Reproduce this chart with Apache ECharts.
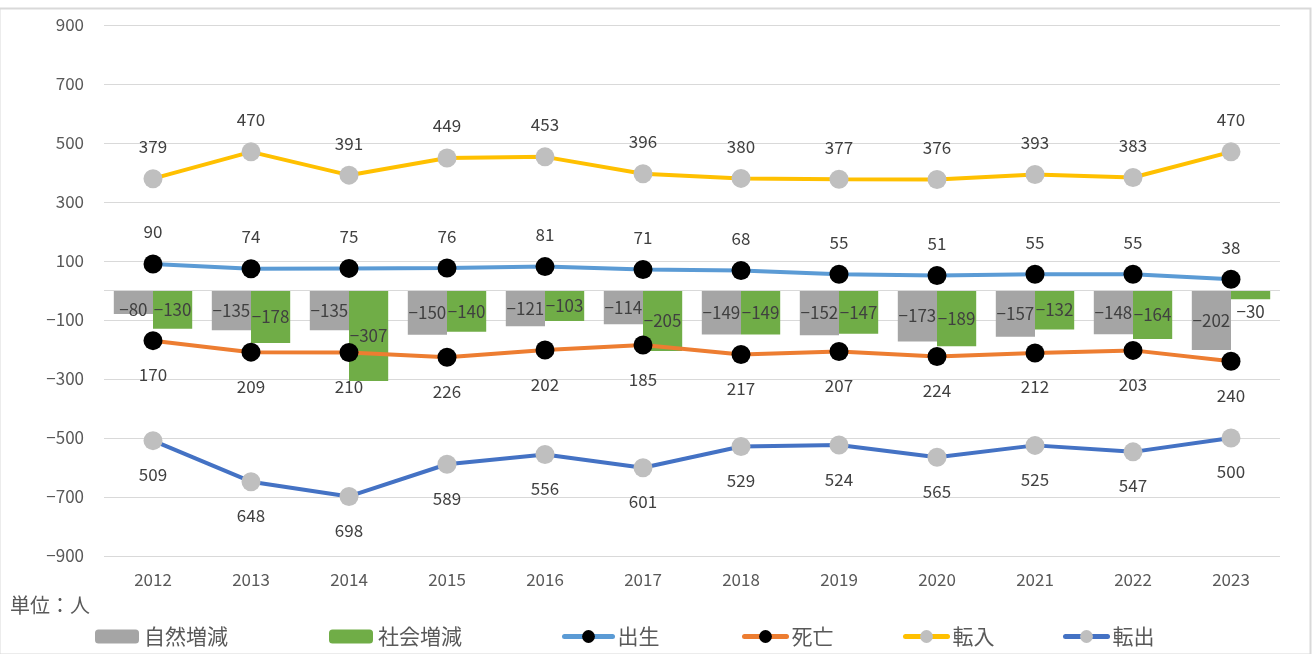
<!DOCTYPE html>
<html>
<head>
<meta charset="utf-8">
<script src="https://cdn.jsdelivr.net/npm/echarts@6/dist/echarts.min.js"></script>
<style>
  html, body { margin: 0; padding: 0; background: #fff; }
  #chart { width: 1312px; height: 654px; }
</style>
</head>
<body>
<div id="chart"></div>
<script>
const years = ['2012', '2013', '2014', '2015', '2016', '2017', '2018', '2019', '2020', '2021', '2022', '2023']
const natural = [-80, -135, -135, -150, -121, -114, -149, -152, -173, -157, -148, -202]
const social = [-130, -178, -307, -140, -103, -205, -149, -147, -189, -132, -164, -30]
const births = [90, 74, 75, 76, 81, 71, 68, 55, 51, 55, 55, 38]
const deaths = [-170, -209, -210, -226, -202, -185, -217, -207, -224, -212, -203, -240]
const moveIn = [379, 470, 391, 449, 453, 396, 380, 377, 376, 393, 383, 470]
const moveOut = [-509, -648, -698, -589, -556, -601, -529, -524, -565, -525, -547, -500]

const FONT = '"Noto Sans CJK JP", "Noto Sans", sans-serif'
const minus = (v) => (v < 0 ? '\u2212' + Math.abs(v) : String(v))

const chart = echarts.init(document.getElementById('chart'), null, { renderer: 'canvas' })

function barSeries(name, values, color) {
  return {
    name,
    type: 'bar',
    barGap: '0%',
    barCategoryGap: '20%',
    itemStyle: { color },
    label: {
      show: true,
      position: 'inside',
      color: '#404040',
      fontSize: 17,
      fontFamily: FONT,
      formatter: (p) => minus(p.value),
    },
    // small bars: put the label a bit lower, as Excel does
    data: values.map((v) => {
      if (Math.abs(v) < 50) return { value: v, label: { position: 'bottom', distance: 4 } }
      if (Math.abs(v) < 100) return { value: v, label: { offset: [0, 7] } }
      return v
    }),
    z: 1,
  }
}

function lineSeries(name, values, color, markerColor, labelPos) {
  return {
    name,
    type: 'line',
    data: values,
    symbol: 'circle',
    symbolSize: 19,
    lineStyle: { color, width: 4 },
    itemStyle: { color: markerColor, borderWidth: 0 },
    label: {
      show: true,
      position: labelPos,
      distance: labelPos === 'top' ? 14 : 16,
      color: '#404040',
      fontSize: 17,
      fontFamily: FONT,
      formatter: (p) => String(Math.abs(p.value)),
    },
    z: 3,
  }
}

const legendText = { color: '#595959', fontSize: 21, fontFamily: FONT }
function legendFor(name, left, w, isBar) {
  return {
    data: [name],
    left,
    top: 626,
    padding: 0,
    itemWidth: w,
    itemHeight: isBar ? 14 : 16,
    itemGap: 0,
    lineStyle: { width: 5, cap: 'round' },
    textStyle: legendText,
    selectedMode: false,
  }
}

const series = [
  barSeries('自然増減', natural, '#A5A5A5'),
  barSeries('社会増減', social, '#70AD47'),
  lineSeries('出生', births, '#5B9BD5', '#000000', 'top'),
  lineSeries('死亡', deaths, '#ED7D31', '#000000', 'bottom'),
  lineSeries('転入', moveIn, '#FFC000', '#BFBFBF', 'top'),
  lineSeries('転出', moveOut, '#4472C4', '#BFBFBF', 'bottom'),
]
// zero line
series[0].markLine = {
  silent: true,
  symbol: 'none',
  label: { show: false },
  lineStyle: { color: '#D9D9D9', type: 'solid', width: 1 },
  data: [{ yAxis: 0 }],
}

chart.setOption({
  backgroundColor: '#fff',
  animation: false,
  textStyle: { fontFamily: FONT },
  grid: { left: 104, right: 32, top: 25, bottom: 98 },
  xAxis: {
    type: 'category',
    data: years,
    axisLine: { show: false },
    axisTick: { show: false },
    axisLabel: { color: '#595959', fontSize: 17, fontFamily: FONT, margin: 15 },
  },
  yAxis: {
    type: 'value',
    min: -900,
    max: 900,
    interval: 200,
    axisLine: { show: false },
    axisTick: { show: false },
    axisLabel: { color: '#595959', fontSize: 17, fontFamily: FONT, margin: 20, formatter: minus },
    splitLine: { lineStyle: { color: '#D9D9D9', width: 1 } },
  },
  legend: [
    legendFor('自然増減', 95, 44, true),
    legendFor('社会増減', 329, 44, true),
    legendFor('出生', 562, 48, false),
    legendFor('死亡', 742, 42, false),
    legendFor('転入', 903, 42, false),
    legendFor('転出', 1063, 42, false),
  ],
  graphic: [
    {
      type: 'rect',
      left: -3, top: 6,
      shape: { width: 1311, height: 646 },
      style: { fill: 'none', stroke: '#D9D9D9', lineWidth: 2 },
      silent: true,
    },
    {
      type: 'text',
      left: 10, top: 595,
      style: { text: '単位：人', fill: '#595959', fontSize: 20, fontFamily: FONT },
    },
  ],
  series,
})
</script>
</body>
</html>
